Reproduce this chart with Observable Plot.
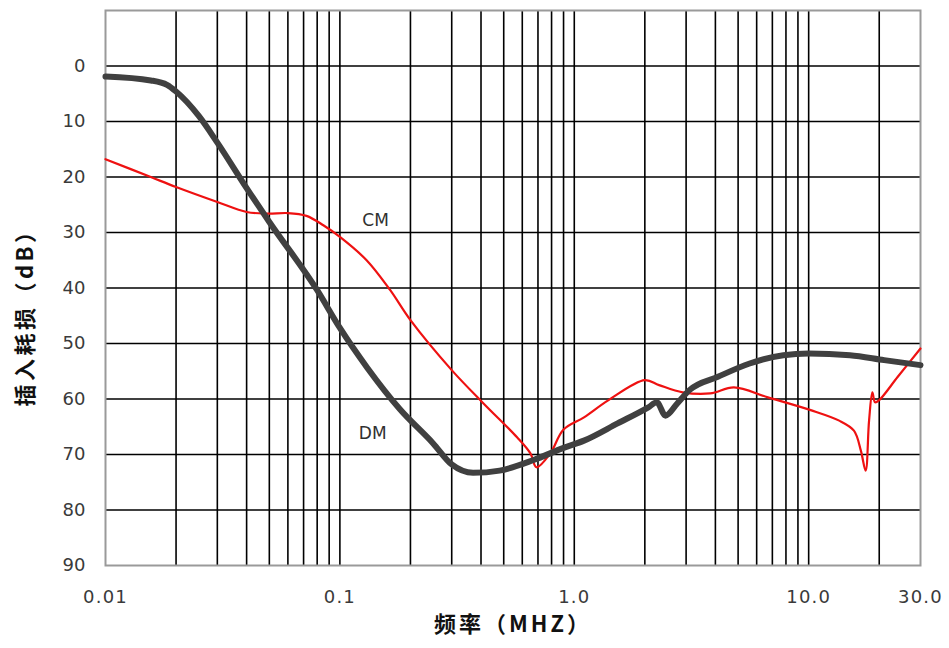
<!DOCTYPE html>
<html>
<head>
<meta charset="utf-8">
<script src="https://cdn.jsdelivr.net/npm/d3@7"></script>
<script src="https://cdn.jsdelivr.net/npm/@observablehq/plot@0.6"></script>
<style>
  html, body { margin: 0; padding: 0; background: #fff; }
  #chart { width: 949px; height: 648px; }
</style>
</head>
<body>
<div id="chart"></div>
<script>
// ---- Data ----
const dmFreq = [0.01, 0.0156, 0.0183, 0.02, 0.025, 0.03, 0.04, 0.05, 0.08, 0.1, 0.131, 0.18, 0.25, 0.3, 0.37, 0.48, 0.67, 0.9, 1.1, 1.53, 2.07, 2.25, 2.45, 2.75, 3.1, 4.1, 5.6, 7.8, 10, 15, 21, 30];
const dmLoss = [1.9, 2.6, 3.4, 4.6, 9.0, 13.8, 22, 28.1, 40.4, 47.2, 54.4, 61.8, 68, 71.8, 73.3, 72.9, 71, 68.8, 67.5, 64.4, 61.5, 60.6, 63, 60.8, 58.4, 56, 53.6, 52.1, 51.8, 52.1, 53, 53.9];

const cmFreq = [0.01, 0.0156, 0.02, 0.03, 0.04, 0.049, 0.06, 0.072, 0.085, 0.1, 0.13, 0.164, 0.2, 0.3, 0.41, 0.57, 0.65, 0.69, 0.79, 0.9, 1.1, 1.4, 2.0, 2.3, 2.9, 3.8, 4.8, 6.7, 10.2, 13.5, 15.6, 16.7, 17.5, 18.1, 18.7, 19.2, 20, 24, 30];
const cmLoss = [16.8, 20, 21.8, 24.5, 26.3, 26.6, 26.5, 27, 28.7, 30.8, 35, 40.4, 45.8, 54.8, 60.8, 66.9, 69.8, 72.3, 69.8, 65.5, 63.3, 60.2, 56.6, 57.5, 58.8, 59, 57.9, 59.7, 62, 63.9, 65.7, 69.3, 72.9, 63.9, 58.8, 60.6, 60.2, 56, 50.9];

const seriesLabels = ["CM", "DM"];
const seriesLabelFreq = [0.142, 0.138];
const seriesLabelLoss = [27.8, 66.2];

const xTickValues = [0.01, 0.1, 1, 10, 30];
const xTickLabels = ["0.01", "0.1", "1.0", "10.0", "30.0"];
const yTickValues = [0, 10, 20, 30, 40, 50, 60, 70, 80, 90];
const xGrid = [0.02,0.03,0.04,0.05,0.06,0.07,0.08,0.09,0.1,0.2,0.3,0.4,0.5,0.6,0.7,0.8,0.9,1,2,3,4,5,6,7,8,9,10,20];
const yGrid = [0, 10, 20, 30, 40, 50, 60, 70, 80];

const xTitle = "频率（MHZ）";
const yTitle = "插入耗损（dB）";

// ---- Build tables ----
const dm = dmFreq.map((f, i) => ({f, v: dmLoss[i]}));
const cm = cmFreq.map((f, i) => ({f, v: cmLoss[i]}));
const labels = seriesLabels.map((t, i) => ({t, f: seriesLabelFreq[i], v: seriesLabelLoss[i]}));

const chart = Plot.plot({
  width: 949,
  height: 648,
  marginLeft: 105,
  marginRight: 29,
  marginTop: 10,
  marginBottom: 83,
  style: {fontFamily: "DejaVu Sans, Verdana, sans-serif", fontSize: "18px", color: "#3a3a3a", background: "#fff"},
  x: {type: "log", domain: [0.01, 30]},
  y: {domain: [-10, 90], reverse: true},
  marks: [
    Plot.ruleX(xGrid, {stroke: "#000", strokeWidth: 1.6}),
    Plot.ruleY(yGrid, {stroke: "#000", strokeWidth: 1.6}),
    Plot.frame({stroke: "#9a9a9a", strokeWidth: 2}),
    Plot.axisX({ticks: xTickValues, tickFormat: (d) => xTickLabels[xTickValues.indexOf(d)], tickSize: 0, tickPadding: 25, label: null, fontSize: 18, fill: "#3a3a3a"}),
    Plot.axisY({ticks: yTickValues, tickSize: 0, tickPadding: 20, label: null, fontSize: 18, fill: "#3a3a3a"}),
    Plot.line(cm, {x: "f", y: "v", stroke: "#ee1111", strokeWidth: 2.2, curve: "catmull-rom"}),
    Plot.line(dm, {x: "f", y: "v", stroke: "#404040", strokeWidth: 6, curve: "monotone-x"}),
    Plot.text(labels, {x: "f", y: "v", text: "t", fontSize: 17, fill: "#303030", fontFamily: "DejaVu Sans, sans-serif"}),
    Plot.text([xTitle], {frameAnchor: "bottom", text: d => d, dy: 66, dx: 0, fontSize: 22, fontWeight: "bold", fill: "#111", fontFamily: "Noto Sans CJK SC, sans-serif"}),
    Plot.text([yTitle], {frameAnchor: "left", textAnchor: "middle", text: d => d, rotate: -90, dx: -80, dy: 24, fontSize: 22, fontWeight: "bold", fill: "#111", fontFamily: "Noto Sans CJK SC, sans-serif"})
  ]
});
document.getElementById("chart").appendChild(chart);

// letter spacing tweaks
const svg = d3.select(chart);
svg.selectAll("text").each(function () {
  const t = this.textContent;
  if (t === xTitle) this.style.letterSpacing = "3px";
  else if (t === yTitle) this.style.letterSpacing = "3.5px";
  else if (xTickLabels.includes(t)) this.style.letterSpacing = "1.2px";
});
</script>
</body>
</html>
